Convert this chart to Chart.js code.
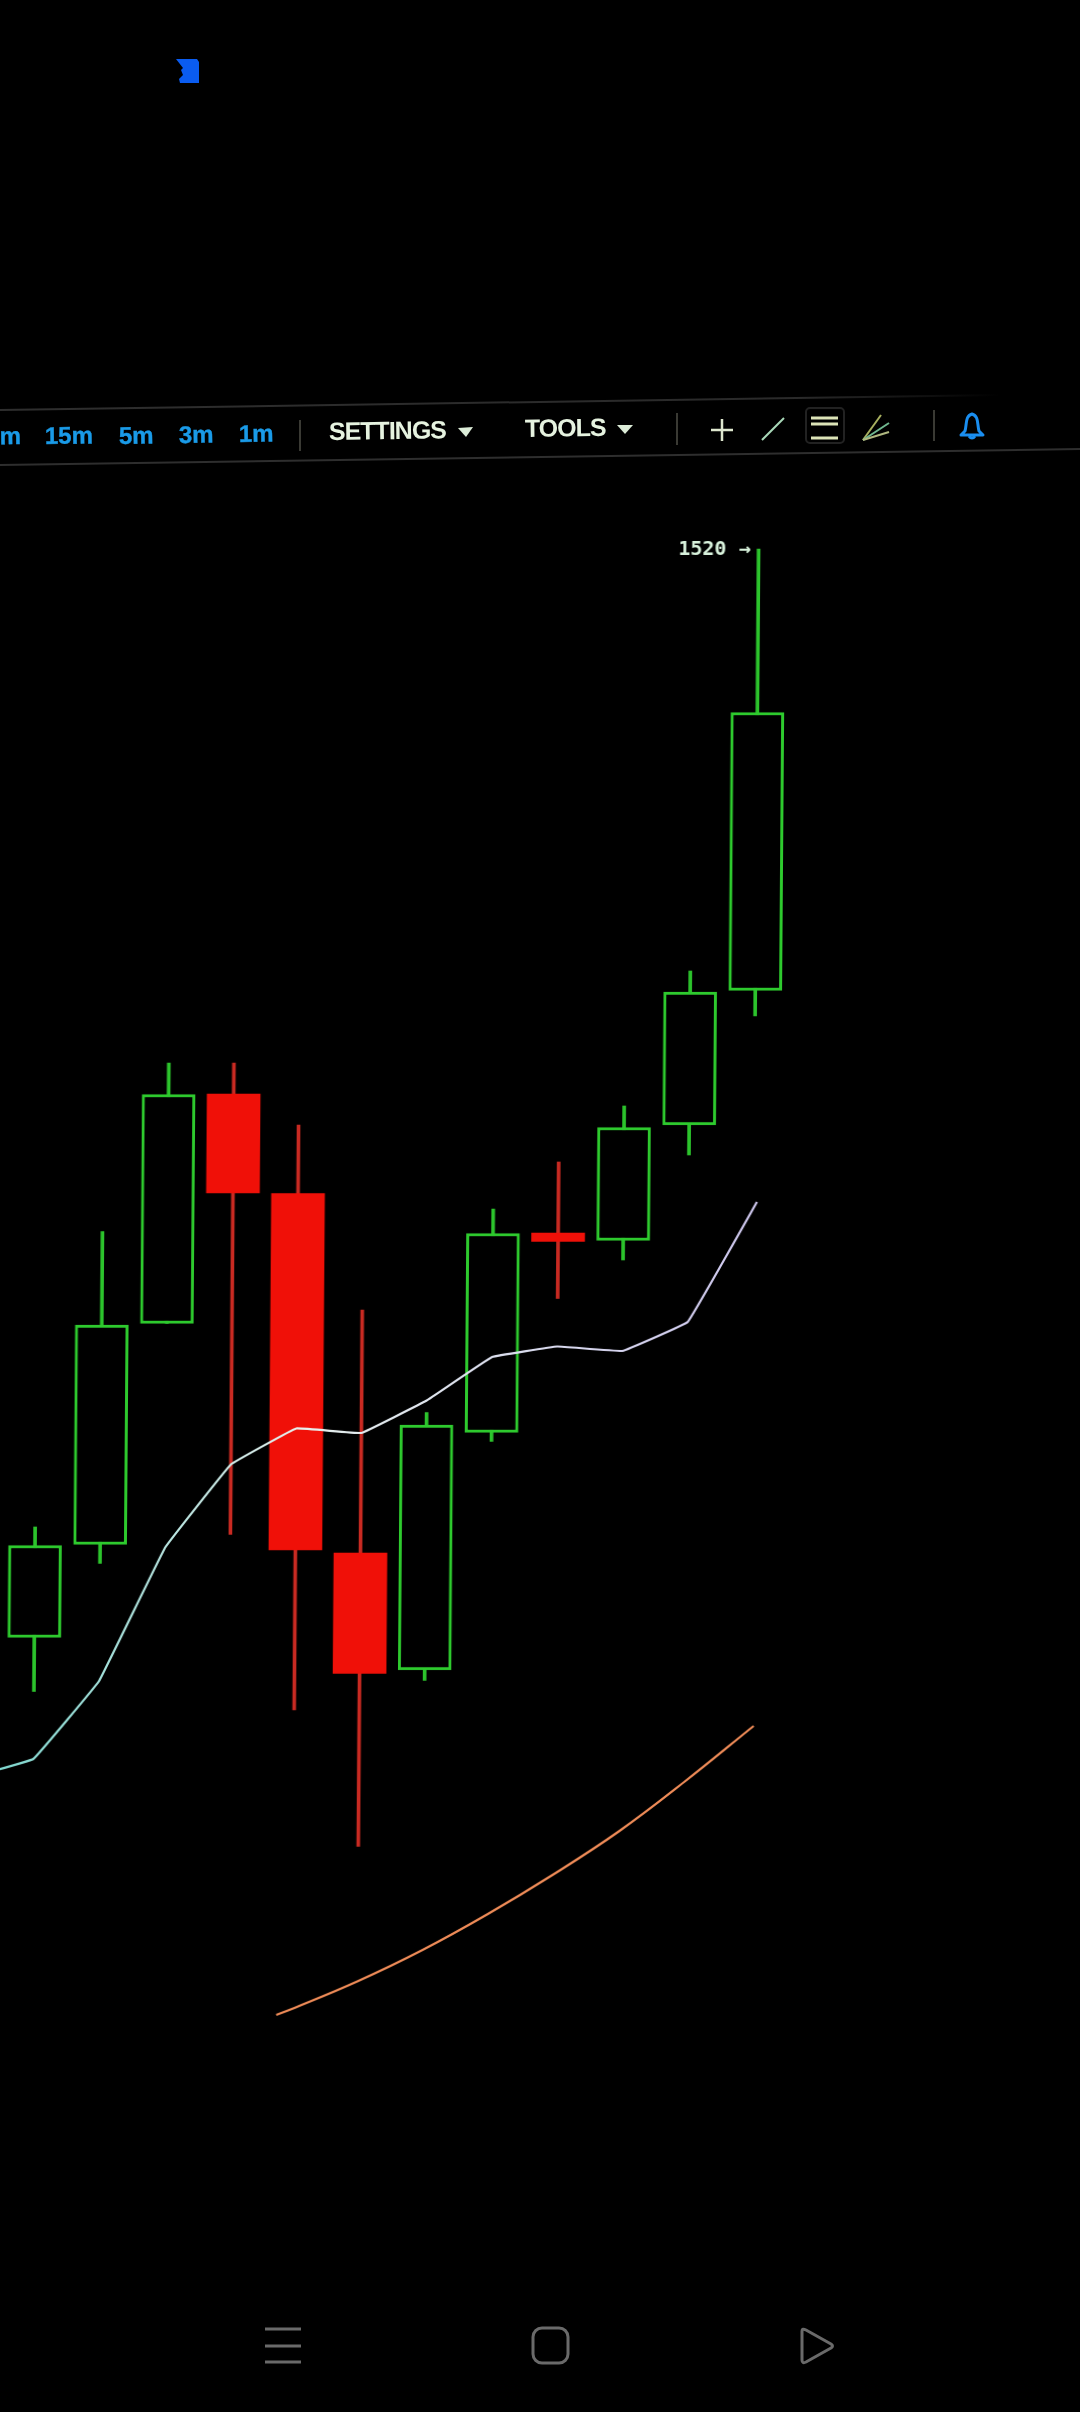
<!DOCTYPE html>
<html><head><meta charset="utf-8">
<style>
html,body{margin:0;padding:0;background:#000;width:1080px;height:2412px;overflow:hidden}
#chart{position:absolute;left:0;top:0;transform-origin:0 1400px;transform:skewX(-0.43deg)}
#ui{position:absolute;left:0;top:0}
text{font-family:"Liberation Sans",sans-serif;font-weight:700}
</style>
<script src="https://cdn.jsdelivr.net/npm/chart.js@4/dist/chart.umd.min.js"></script>
</head><body>
<canvas id="chart" width="1080" height="2412"></canvas>
<svg id="ui" width="1080" height="2412" viewBox="0 0 1080 2412">
  <defs>
    <linearGradient id="fade" gradientUnits="userSpaceOnUse" x1="0" y1="0" x2="1000" y2="0">
      <stop offset="0" stop-color="#2e2e2e"/><stop offset="0.8" stop-color="#2a2a2a"/><stop offset="1" stop-color="#000"/>
    </linearGradient>
  </defs>
  <polygon points="176,59 197,59 199,62 199,83 180,83 179,79 183,75 181,70 183,68" fill="#0a5cf0"/>
  <line x1="0" y1="410" x2="1000" y2="395" stroke="url(#fade)" stroke-width="2"/>
  <line x1="0" y1="465" x2="1080" y2="449" stroke="#2e2e2e" stroke-width="2"/>
  <g fill="#1a9be8" font-size="24" stroke="#1a9be8" stroke-width="0.4">
    <text x="21" y="444" text-anchor="end" transform="rotate(-0.8 21 444)">m</text>
    <text x="45" y="444" transform="rotate(-0.8 45 444)">15m</text>
    <text x="119" y="444" transform="rotate(-0.8 119 444)">5m</text>
    <text x="179" y="443" transform="rotate(-0.8 179 443)">3m</text>
    <text x="239" y="442" transform="rotate(-0.8 239 442)">1m</text>
  </g>
  <g fill="#e6f3e0" font-size="25" letter-spacing="-1">
    <text x="329" y="440" transform="rotate(-0.8 329 440)">SETTINGS</text>
    <text x="525" y="437" transform="rotate(-0.8 525 437)">TOOLS</text>
  </g>
  <polygon points="458,428 473,427 466,437" fill="#dcecd8"/>
  <polygon points="617,425 633,425 625,434" fill="#dcecd8"/>
  <g stroke="#3a3a34" stroke-width="2">
    <line x1="300" y1="420" x2="300" y2="451"/>
    <line x1="677" y1="413" x2="677" y2="445"/>
    <line x1="934" y1="410" x2="934" y2="441"/>
  </g>
  <g stroke="#dfe8cf" stroke-width="2.5" fill="none">
    <line x1="711" y1="430" x2="733" y2="430"/>
    <line x1="722" y1="419" x2="722" y2="441"/>
    <line x1="762" y1="440" x2="784" y2="418" stroke="#a8d8b8" stroke-width="2"/>
    <rect x="806" y="408" width="38" height="35" rx="4" stroke="#222" stroke-width="2"/>
    <line x1="811" y1="418" x2="838" y2="418" stroke="#dde4b8" stroke-width="3"/>
    <line x1="811" y1="424" x2="838" y2="424" stroke="#dde4b8" stroke-width="3"/>
    <line x1="811" y1="438" x2="838" y2="438" stroke="#dde4b8" stroke-width="3"/>
    <line x1="863" y1="440" x2="881" y2="415" stroke="#a8b060" stroke-width="2"/>
    <line x1="863" y1="440" x2="889" y2="423" stroke="#70b890" stroke-width="2"/>
    <line x1="863" y1="440" x2="889" y2="432" stroke="#b0b880" stroke-width="2"/>
  </g>
  <g fill="none" stroke="#1a8ef0" stroke-width="3" stroke-linejoin="round">
    <path d="M965 431 C967 424 965 416 972 414 C979 416 977 424 979 431 L983 435 L961 435 Z"/>
    <path d="M969 436 Q972 440 975 436"/>
  </g>
  <g stroke="#6a6a6a" stroke-width="3" fill="none" stroke-linejoin="round">
    <line x1="265" y1="2329" x2="301" y2="2329"/>
    <line x1="265" y1="2346" x2="301" y2="2346"/>
    <line x1="265" y1="2362" x2="301" y2="2362"/>
    <rect x="533" y="2328" width="35" height="35" rx="9"/>
    <path d="M802 2331 Q802 2328 806 2330 L831 2344 Q834 2346 831 2348 L806 2362 Q802 2364 802 2360 Z"/>
  </g>
</svg>
<script>
const candleIndex = [0,1,2,3,4,5,6,7,8,9,10,11];
const openP  = [1302.3,1320.9,1365.1,1411.0,1391.1,1319.2,1295.8,1343.3,1383.2,1381.7,1404.8,1431.7];
const closeP = [1320.7,1364.8,1410.9,1391.2,1319.8,1295.1,1344.8,1383.1,1381.5,1404.3,1431.4,1487.3];
const highP  = [1324.4,1383.5,1417.2,1417.2,1404.8,1367.8,1347.3,1388.0,1397.4,1408.6,1435.6,1520.0];
const lowP   = [1291.5,1317.1,1365.1,1322.9,1287.8,1260.5,1293.7,1341.5,1370.1,1377.8,1398.8,1426.6];
const fastX  = [-1,0,1,2,3,4,5,6,7,8,9,10,11.05];
const fastMA = [1274.2,1278.0,1293.6,1320.3,1336.9,1344.1,1343.2,1349.7,1358.4,1360.5,1359.6,1365.4,1389.4];
const slowX  = [3.76,4,5,6,7,8,9,10,11.06];
const slowMA = [1226.8,1228.0,1233.5,1239.8,1247.0,1254.9,1263.5,1273.4,1284.6];
const highLabel = "1520";

const GREEN = "#2ecb2e", GREEN_WICK = "#2cc42c", RED = "#f01008", RED_WICK = "#c92a22";
const isUp = i => closeP[i] >= openP[i];

const highMarker = {
  id: "highMarker",
  afterDatasetsDraw(chart) {
    const {ctx, scales} = chart;
    const i = highP.indexOf(Math.max(...highP));
    const px = scales.x.getPixelForValue(candleIndex[i]);
    const py = scales.y.getPixelForValue(highP[i]);
    ctx.save();
    ctx.fillStyle = "#d8f2dc";
    ctx.font = "bold 20px 'DejaVu Sans Mono'";
    ctx.textBaseline = "middle";
    ctx.textAlign = "right";
    ctx.fillText(highLabel + " \u2192", px - 8, py + 1);
    ctx.restore();
  }
};

let fastGrad = null;
new Chart(document.getElementById("chart"), {
  type: "bar",
  plugins: [highMarker],
  data: {
    datasets: [
      { type: "line", label: "Slow MA", order: 1,
        data: slowX.map((x, i) => ({x, y: slowMA[i]})),
        borderColor: "#f08c58", borderWidth: 2.2, pointRadius: 0, tension: 0.4 },
      { type: "line", label: "Fast MA", order: 1,
        data: fastX.map((x, i) => ({x, y: fastMA[i]})),
        borderColor: ctx => {
          if (!fastGrad) {
            fastGrad = ctx.chart.ctx.createLinearGradient(0, 0, 760, 0);
            fastGrad.addColorStop(0, "#7fd8d0");
            fastGrad.addColorStop(0.4, "#e8f2f0");
            fastGrad.addColorStop(1, "#cfc8f0");
          }
          return fastGrad;
        },
        borderWidth: 2.2, pointRadius: 0, tension: 0.05 },
      { label: "Body", order: 2, barThickness: 53,
        data: candleIndex.map((x, i) => ({x, y: [openP[i], closeP[i]]})),
        backgroundColor: c => isUp(c.dataIndex) ? "#000" : RED,
        borderColor: c => isUp(c.dataIndex) ? GREEN : RED,
        borderWidth: c => isUp(c.dataIndex) ? 3 : 0,
        borderSkipped: false },
      { label: "Wick", order: 3, barThickness: 3,
        data: candleIndex.map((x, i) => ({x, y: [lowP[i], highP[i]]})),
        backgroundColor: c => isUp(c.dataIndex) ? GREEN_WICK : RED_WICK,
        borderWidth: 0 }
    ]
  },
  options: {
    responsive: false, animation: false, devicePixelRatio: 1,
    layout: { padding: 0 },
    datasets: { bar: { grouped: false } },
    plugins: { legend: { display: false }, tooltip: { enabled: false } },
    scales: {
      x: { type: "linear", min: -0.5545, max: 16.035, offset: false, display: false },
      y: { type: "linear", min: 1147.4, max: 1629.8, display: false }
    }
  }
});
</script>
</body></html>
